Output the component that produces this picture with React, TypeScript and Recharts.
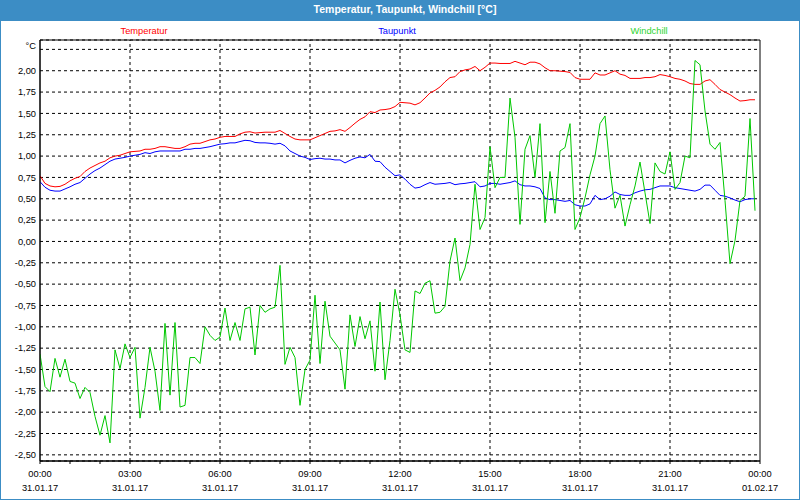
import React from 'react';
import { LineChart, Line, XAxis, YAxis, CartesianGrid, ReferenceLine, ReferenceArea, Legend } from 'recharts';

// minutes since 31.01.17 00:00
const times = [
  0, 10, 20, 30, 40, 50, 60, 70, 80, 90, 100, 110, 120, 130, 140, 150, 160, 170, 180, 190,
  200, 210, 220, 230, 240, 250, 260, 270, 280, 290, 300, 310, 320, 330, 340, 350, 360, 370, 380, 390,
  400, 410, 420, 430, 440, 450, 460, 470, 480, 490, 500, 510, 520, 530, 540, 550, 560, 570, 580, 590,
  600, 610, 620, 630, 640, 650, 660, 670, 680, 690, 700, 710, 720, 730, 740, 750, 760, 770, 780, 790,
  800, 810, 820, 830, 840, 850, 860, 870, 880, 890, 900, 910, 920, 930, 940, 950, 960, 970, 980, 990,
  1000, 1010, 1020, 1030, 1040, 1050, 1060, 1070, 1080, 1090, 1100, 1110, 1120, 1130, 1140, 1150, 1160, 1170, 1180, 1190,
  1200, 1210, 1220, 1230, 1240, 1250, 1260, 1270, 1280, 1290, 1300, 1310, 1320, 1330, 1340, 1350, 1360, 1370, 1380, 1390,
  1400, 1410, 1420, 1430,
];

const temperatur = [
  0.77, 0.68, 0.65, 0.64, 0.645, 0.67, 0.71, 0.74, 0.76, 0.82, 0.86, 0.89, 0.92, 0.94, 0.98, 1.0, 1.01, 1.03, 1.05, 1.055,
  1.06, 1.08, 1.08, 1.09, 1.11, 1.11, 1.1, 1.09, 1.09, 1.11, 1.14, 1.15, 1.15, 1.17, 1.19, 1.2, 1.22, 1.23, 1.23, 1.23,
  1.26, 1.28, 1.285, 1.27, 1.275, 1.28, 1.28, 1.28, 1.3, 1.265, 1.23, 1.2, 1.19, 1.19, 1.19, 1.215, 1.24, 1.265, 1.29, 1.295,
  1.31, 1.29, 1.335, 1.385, 1.43, 1.46, 1.52, 1.51, 1.54, 1.545, 1.555, 1.58, 1.63, 1.625, 1.62, 1.6, 1.625, 1.68, 1.74, 1.77,
  1.81, 1.87, 1.92, 1.93, 1.99, 2.01, 2.02, 2.05, 2.0, 2.04, 2.09, 2.09, 2.085, 2.085, 2.085, 2.11, 2.09, 2.07, 2.1, 2.1,
  2.08, 2.035, 2.0, 2.0, 1.995, 1.99, 1.98, 1.92, 1.9, 1.9, 1.9, 1.975, 1.95, 1.95, 1.975, 2.0, 1.96, 1.945, 1.91, 1.91,
  1.91, 1.92, 1.92, 1.93, 1.955, 1.945, 1.93, 1.91, 1.9, 1.88, 1.85, 1.84, 1.84, 1.88, 1.895, 1.84, 1.78, 1.75, 1.72, 1.68,
  1.645, 1.65, 1.66, 1.66,
];

const taupunkt = [
  0.7, 0.635, 0.6, 0.59, 0.59, 0.615, 0.64, 0.67, 0.69, 0.74, 0.79, 0.83, 0.86, 0.9, 0.94, 0.965, 0.975, 0.985, 1.0, 1.01,
  1.02, 1.04, 1.03, 1.05, 1.06, 1.06, 1.06, 1.06, 1.06, 1.08, 1.08, 1.09, 1.09, 1.1, 1.11, 1.125, 1.14, 1.145, 1.155, 1.155,
  1.17, 1.185, 1.18, 1.16, 1.155, 1.155, 1.15, 1.14, 1.15, 1.12, 1.06, 1.03, 1.0, 0.985, 0.96, 0.97, 0.975, 0.965, 0.965, 0.955,
  0.955, 0.92, 0.95, 0.975, 0.99, 0.98, 1.02, 0.94, 0.935, 0.87, 0.82, 0.77, 0.78, 0.73, 0.67, 0.625, 0.635, 0.665, 0.69, 0.67,
  0.675, 0.68, 0.69, 0.665, 0.675, 0.68, 0.69, 0.7, 0.64, 0.65, 0.68, 0.68, 0.67, 0.68, 0.69, 0.71, 0.665, 0.65, 0.65, 0.64,
  0.62, 0.51, 0.49, 0.49, 0.48, 0.47, 0.48, 0.43, 0.415, 0.415, 0.44, 0.54, 0.49, 0.5, 0.53, 0.58, 0.55, 0.54, 0.54, 0.57,
  0.59, 0.605, 0.61, 0.63, 0.65, 0.65, 0.65, 0.63, 0.62, 0.61, 0.6, 0.59, 0.61, 0.66, 0.66, 0.6, 0.54, 0.53, 0.51, 0.485,
  0.465, 0.49, 0.5, 0.5,
];

const windchill = [
  -1.32, -1.7, -1.76, -1.37, -1.59, -1.38, -1.64, -1.66, -1.84, -1.71, -1.77, -2.05, -2.27, -2.04, -2.36, -1.27, -1.49, -1.2, -1.36, -1.24,
  -2.07, -1.71, -1.24, -1.52, -1.98, -0.96, -1.8, -0.95, -1.94, -1.92, -1.36, -1.36, -1.43, -1.0, -1.1, -1.16, -1.12, -0.78, -1.16, -0.95,
  -1.16, -0.79, -0.77, -1.33, -0.75, -0.83, -0.79, -0.77, -0.28, -1.44, -1.24, -1.36, -1.92, -1.5, -1.39, -0.63, -1.43, -0.7, -1.11, -1.19,
  -1.27, -1.73, -0.86, -1.23, -0.88, -1.14, -0.93, -1.52, -0.71, -1.62, -1.16, -0.56, -0.86, -1.27, -1.3, -0.58, -0.61, -0.49, -0.46, -0.84,
  -0.83, -0.76, -0.23, 0.04, -0.46, -0.31, -0.035, 0.67, 0.14, 0.28, 1.11, 0.63, 0.75, 0.75, 1.68, 1.22, 0.2, 1.08, 1.24, 0.75,
  1.38, 0.22, 0.82, 0.33, 1.06, 1.1, 1.38, 0.14, 0.28, 0.51, 0.78, 1.0, 1.38, 1.47, 0.84, 0.39, 0.54, 0.18, 0.43, 0.65,
  0.93, 0.57, 0.21, 0.92, 0.82, 0.79, 1.05, 0.61, 0.69, 1.0, 0.98, 2.12, 2.07, 1.53, 1.14, 1.08, 1.16, 0.48, -0.26, 0.01,
  0.48, 0.53, 1.44, 0.36,
];

const hourTicks = [0, 60, 120, 180, 240, 300, 360, 420, 480, 540, 600, 660, 720, 780, 840, 900, 960, 1020, 1080, 1140, 1200, 1260, 1320, 1380, 1440];
const majorTicks = [0, 180, 360, 540, 720, 900, 1080, 1260, 1440];
const timeLabels = ['00:00', '03:00', '06:00', '09:00', '12:00', '15:00', '18:00', '21:00', '00:00'];
const dateLabels = ['31.01.17', '31.01.17', '31.01.17', '31.01.17', '31.01.17', '31.01.17', '31.01.17', '31.01.17', '01.02.17'];
const yTicks = [-2.5, -2.25, -2.0, -1.75, -1.5, -1.25, -1.0, -0.75, -0.5, -0.25, 0, 0.25, 0.5, 0.75, 1.0, 1.25, 1.5, 1.75, 2.0, 2.25];
const yDomain = [-2.572, 2.36];
const xDomain = [0, 1440];
const seriesNames = ['Temperatur', 'Taupunkt', 'Windchill'];
const chartTitle = 'Temperatur, Taupunkt, Windchill [°C]';
const unitLabel = '°C';

const data = times.map((t, i) => ({
  t,
  temperatur: temperatur[i],
  taupunkt: taupunkt[i],
  windchill: windchill[i],
}));

const FONT = '"Liberation Sans", Arial, sans-serif';
const lineColors = ['#ff0000', '#0000ff', '#00c800'];
const legendTextColors = ['#ff0000', '#0000ff', '#2ed42e'];
const legendCenters = [144, 397, 649];
const BLUE = '#3c8dc5';

const XTick = (props: any) => {
  const { x, y, payload } = props;
  const idx = majorTicks.indexOf(payload.value);
  if (idx < 0) return <g />;
  return (
    <g>
      <text x={x} y={y + 13} textAnchor="middle" fontSize={9.3} fontFamily={FONT} fill="#000">
        {timeLabels[idx]}
      </text>
      <text x={x} y={y + 27} textAnchor="middle" fontSize={9.3} fontFamily={FONT} fill="#000">
        {dateLabels[idx]}
      </text>
    </g>
  );
};

const YTick = (props: any) => {
  const { x, y, payload } = props;
  const v = payload.value as number;
  const isTop = v === yTicks[yTicks.length - 1];
  const label = isTop ? unitLabel : v.toFixed(2).replace('.', ',');
  return (
    <text x={x} y={(isTop ? y - 4 : y) + 3.3} textAnchor="end" fontSize={9.3} fontFamily={FONT} fill="#000">
      {label}
    </text>
  );
};

const renderLegend = () => (
  <div style={{ position: 'relative', width: 800, height: 16 }}>
    {seriesNames.map((n, i) => (
      <span
        key={n}
        style={{
          position: 'absolute',
          left: legendCenters[i],
          top: 0,
          transform: 'translateX(-50%)',
          color: legendTextColors[i],
          fontFamily: FONT,
          fontSize: 9.3,
          lineHeight: '16px',
          whiteSpace: 'nowrap',
        }}
      >
        {n}
      </span>
    ))}
  </div>
);

export default function App() {
  return (
    <div style={{ position: 'absolute', left: 0, top: 0, width: 800, height: 500, background: '#fff', overflow: 'hidden' }}>
      <LineChart width={800} height={500} data={data} margin={{ top: 24, right: 40, bottom: 0, left: 0 }}>
        <CartesianGrid vertical={false} stroke="#000" strokeDasharray="3 3" />
        {majorTicks.slice(1, -1).map((v) => (
          <ReferenceLine key={v} x={v} stroke="#000" strokeDasharray="3 3" />
        ))}
        <ReferenceArea x1={xDomain[0]} x2={xDomain[1]} y1={yDomain[0]} y2={yDomain[1]} fill="none" stroke="#000" />
        <XAxis
          dataKey="t"
          type="number"
          domain={xDomain}
          ticks={hourTicks}
          interval={0}
          height={39}
          tickSize={3}
          tickMargin={0}
          axisLine={{ stroke: '#000' }}
          tickLine={{ stroke: '#000' }}
          tick={<XTick />}
          allowDataOverflow
        />
        <YAxis
          type="number"
          domain={yDomain}
          ticks={yTicks}
          interval={0}
          width={40}
          tickSize={0}
          tickMargin={4}
          axisLine={{ stroke: '#000' }}
          tickLine={false}
          tick={<YTick />}
          allowDataOverflow
        />
        <Legend verticalAlign="top" height={16} wrapperStyle={{ top: 23, left: 0, width: 800 }} content={renderLegend} />
        <Line type="linear" dataKey="temperatur" name={seriesNames[0]} stroke={lineColors[0]} strokeWidth={1} dot={false} isAnimationActive={false} />
        <Line type="linear" dataKey="taupunkt" name={seriesNames[1]} stroke={lineColors[1]} strokeWidth={1} dot={false} isAnimationActive={false} />
        <Line type="linear" dataKey="windchill" name={seriesNames[2]} stroke={lineColors[2]} strokeWidth={1} dot={false} isAnimationActive={false} />
      </LineChart>
      <div
        style={{
          position: 'absolute',
          left: 0,
          top: 0,
          width: 800,
          height: 21,
          background: BLUE,
          color: '#fff',
          fontFamily: FONT,
          fontWeight: 'bold',
          fontSize: 10.5,
          lineHeight: '18px',
          textAlign: 'center',
          paddingLeft: 10,
          boxSizing: 'border-box',
        }}
      >
        {chartTitle}
      </div>
      <div
        style={{
          position: 'absolute',
          left: 0,
          top: 0,
          width: 800,
          height: 500,
          border: `1px solid ${BLUE}`,
          boxSizing: 'border-box',
          pointerEvents: 'none',
        }}
      />
    </div>
  );
}
